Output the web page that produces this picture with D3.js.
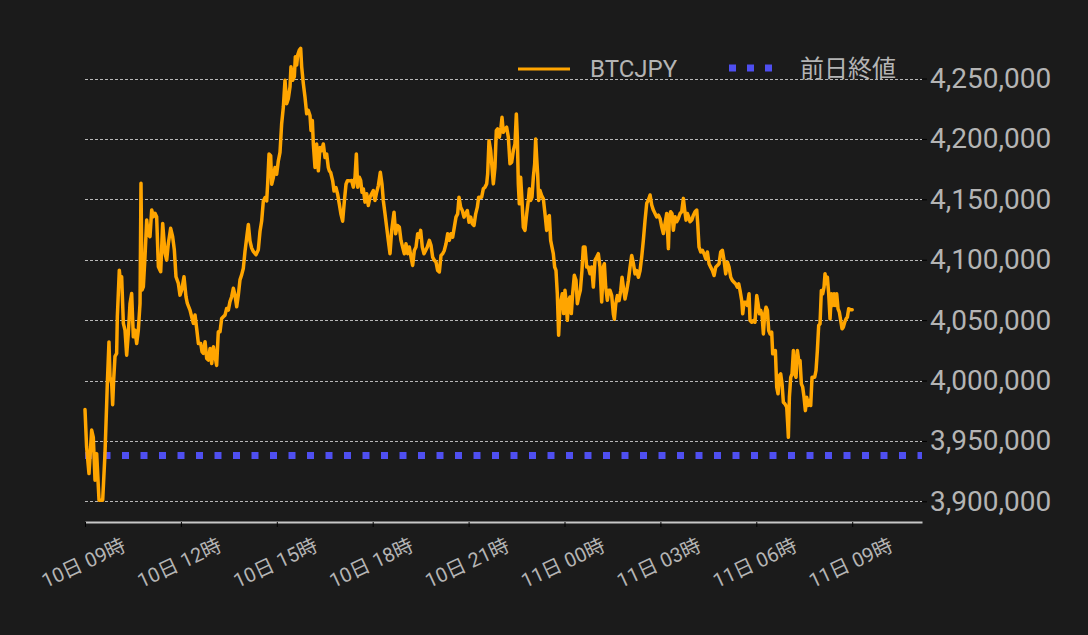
<!DOCTYPE html>
<html><head><meta charset="utf-8">
<script src="https://cdn.jsdelivr.net/npm/d3@7"></script>
<style>
html,body{margin:0;padding:0;background:#1b1b1b;}
svg{display:block;}
text{font-family:Roboto,"Noto Sans CJK JP",sans-serif;}
</style></head>
<body>
<svg id="chart" width="1088" height="635"></svg>
<script>
// minutes elapsed since 10日 09:00
const minutesFrom0900 = [
0,3,7.5,12.5,15.6,18.8,21.9,26.3,33.2,37.5,40.7,41.9,45.0,46.9,50.1,51.9,53.8,56.3,59.4,60.7,
64.4,66.9,68.8,72.0,75.1,78.2,81.3,84.5,87.6,90.7,93.9,97.0,100.1,103.3,105.1,107.0,109.5,112.6,115.8,118.9,
122.0,125.2,128.3,131.4,134.5,137.7,142.1,145.8,150.2,153.3,156.4,160.8,164.5,167.7,170.8,175.2,178.3,181.5,185.8,189.6,
192.1,197.1,200.2,203.4,206.5,209.6,212.8,217.2,219.7,222.2,225.3,228.4,231.6,234.7,237.8,241.0,
247.1,250.2,253.4,256.5,259.6,262.8,265.9,269.0,272.1,275.3,278.4,281.5,284.7,287.8,290.9,294.0,297.2,300.3,303.4,306.6,
309.7,312.8,315.9,320.9,325.3,328.5,331.6,334.7,337.8,341.0,342.8,345.4,348.5,350.4,353.5,356.6,359.7,362.9,366.0,369.1,
372.3,375.4,378.5,381.6,384.8,386.6,389.8,392.9,394.8,397.3,399.2,402.3,404.8,406.7,409.8,412.9,416.1,419.2,422.3,424.2,
426.7,428.6,431.7,434.8,438.0,441.1,444.2,447.3,450.5,453.6,456.7,458.6,461.1,464.9,467.4,471.1,474.2,477.4,480.5,483.6,
486.8,489.9,492.4,496.1,
500.5,503.6,506.8,509.3,511.8,514.9,517.4,519.9,522.4,525.5,528.7,531.8,534.9,538.0,541.2,544.3,547.4,550.6,554.3,557.4,
559.9,563.1,566.2,569.3,572.5,575.6,580.0,583.1,586.2,590.0,593.1,596.2,599.4,602.5,605.6,608.7,611.9,615.0,618.1,621.3,
624.4,627.5,630.0,633.1,636.3,639.4,642.5,646.3,649.4,652.5,655.7,658.8,661.9,665.1,668.2,671.3,674.4,677.6,680.7,683.8,
687.0,690.1,693.2,696.3,699.5,702.0,705.1,708.2,711.4,714.5,717.6,720.8,723.9,727.0,730.1,733.3,736.4,738.9,
741.4,744.5,747.6,750.8,753.9,755.8,758.3,761.4,763.9,766.4,769.5,772.0,774.5,777.7,780.8,782.7,785.2,788.3,791.4,794.6,
797.7,800.8,804.0,807.1,809.6,811.5,813.3,815.2,817.7,820.2,822.7,825.8,829.0,832.1,834.0,836.5,839.0,841.5,844.0,845.9,
847.7,849.6,851.5,854.0,857.1,860.3,863.4,866.5,869.0,871.5,874.0,876.5,879.0,881.5,884.0,886.5,889.0,891.5,893.4,895.9,
898.4,900.9,902.8,905.3,907.8,910.3,912.8,915.3,918.4,921.6,924.1,926.6,929.7,932.8,935.3,938.5,941.6,944.7,947.9,951.0,
954.1,957.2,960.4,963.5,966.6,969.8,972.9,974.8,977.3,980.4,982.9,985.4,
988.6,991.7,993.6,996.1,999.2,1002.4,1005.5,1008.0,1010.5,1013.6,1016.8,1019.9,1023.0,1026.1,1029.4,1032.4,1035.5,1038.7,1041.8,1044.9,
1048.0,1051.2,1054.3,1057.4,1060.6,1063.7,1066.8,1069.9,1073.1,1076.2,1079.3,1082.5,1085.6,1088.7,1091.8,1095.0,1096.8,1099.3,1101.8,1104.3,
1107.5,1110.6,1113.7,1116.9,1120.0,1123.1,1125.6,1128.1,1130.6,1133.1,1135.6,1138.8,1141.9,1145.0,1148.2,1150.0,1152.5,1155.7,1158.8,1161.9,
1165.1,1168.2,1171.3,1174.4,1177.6,1180.7,1183.8,1186.9,1190.1,1193.2,1196.3,1199.5,1202.6,1205.7,1208.8,1212.0,1215.1,1218.2,1221.4,1224.5,
1227.0,1229.5,
1232.6,1234.5,1237.0,1240.1,1243.2,1246.4,1248.2,1251.4,1254.5,1257.6,1260.8,1263.3,1265.8,1268.3,1270.8,1273.3,1275.8,1278.3,1280.8,1283.3,
1285.8,1288.9,1290.8,1293.3,1295.8,1298.3,1300.8,1303.3,1305.8,1308.3,1310.8,1313.9,1317.1,1318.9,1320.2,1322.1,1324.6,1327.1,1329.6,1332.1,
1334.6,1337.1,1339.6,1342.1,1344.6,1347.1,1349.6,1352.1,1354.6,1357.1,1359.6,1362.1,1364.6,1367.1,1369.6,1372.1,1374.6,1377.1,1379.6,1382.1,
1384.6,1387.1,1389.0,1390.9,1393.4,1395.9,1398.4,1400.9,1403.4,1405.9,1408.4,1410.9,1413.4,1415.9,1418.4,1420.9,1423.4,1425.9,1428.4,1430.9,
1433.4,1437.2,1440
];
const btcjpy = [
3976000,3945000,3923000,3959000,3953000,3917500,3939500,3901000,3901000,3939500,3981000,3997500,4032000,4003000,3997500,3980000,4000300,4020000,4022400,4052800,
4091400,4080400,4085900,4047300,4041700,4021000,4039000,4063800,4072100,4036200,4041700,4030700,4041700,4063800,4163300,4074900,4077600,4102500,4132900,4120400,
4119100,4141200,4135600,4138400,4135600,4094200,4090100,4130100,4105300,4099700,4113500,4126000,4119100,4108000,4085900,4080400,4070700,4074900,4085900,4069300,
4063800,4058300,4052800,4047300,4054200,4043100,4030700,4030700,4023800,4022400,4032100,4018300,4016900,4026500,4014100,4027900,
4012500,4040300,4040300,4051400,4052800,4054150,4059700,4058300,4065300,4069400,4076400,4070800,4061100,4070800,4083300,4087500,4093000,4106900,4118000,4129200,
4115300,4109700,4106900,4104100,4108300,4123600,4132000,4148600,4151400,4148600,4162500,4187500,4186100,4162500,4168100,4176400,4170800,4181900,4188900,4212500,
4226400,4248600,4229200,4233300,4243100,4259700,4248600,4251400,4268100,4261100,4269500,4273600,4275000,4259700,4245800,4234700,4220800,4223600,4219400,4207000,
4215300,4195800,4176400,4195800,4173600,4193000,4190300,4195800,4184700,4187500,4176400,4173600,4172200,4165300,4156900,4159700,4154200,4145800,4137500,4131900,
4148600,4162500,4165300,4165300,
4165600,4160100,4168300,4187600,4160100,4168300,4165600,4155900,4158700,4147700,4154600,4144900,4151800,4154600,4157300,4149100,4155900,4161400,4172500,4162800,
4149100,4138000,4127000,4116000,4105000,4124300,4139400,4121500,4128400,4127000,4116000,4110500,4105000,4113200,4105000,4110500,4102200,4095300,4107700,4110500,
4121500,4118700,4124300,4110500,4105000,4107700,4110500,4116000,4111900,4102200,4099500,4098100,4091200,4089900,4103600,4105000,4107700,4113200,4121500,4116000,
4121500,4118700,4127000,4135300,4138000,4151800,4143500,4140800,4135300,4138000,4140800,4131100,4135300,4129800,4128400,4138000,4143500,4151800,
4151800,4151800,4158700,4160100,4162800,4171100,4198600,4190400,4176600,4162800,4176600,4206900,4208300,4201400,4209700,4217900,4205500,4208300,4209700,4201400,
4179400,4180700,4190400,4195900,4220700,4201400,4162800,4146300,4168300,4149100,4127000,4124300,4138000,4149100,4158700,4149100,4151800,4168300,4179400,4200000,
4184900,4171100,4149100,4157300,4153200,4150400,4138000,4124300,4135300,4136600,4116000,4110500,4105000,4094000,4091200,4071900,4037500,4060900,4066400,4071900,
4055400,4074700,4066400,4049900,4066400,4069200,4055400,4071900,4087100,4082900,4063600,4069200,4074700,4091200,4110500,4110500,4094000,4094000,4088400,4094000,
4077400,4099500,4102200,4105000,4094000,4065000,4094000,4096700,4077400,4066400,4074700,4074700,
4070300,4055000,4050800,4063300,4070300,4066100,4074400,4085500,4077200,4067500,4074400,4082800,4093900,4103600,4096700,4088300,4091100,4085500,4091100,4102200,
4116100,4132800,4146700,4149400,4153600,4145300,4141100,4138300,4135500,4136900,4134200,4127200,4121700,4130000,4138300,4109200,4135500,4139700,4138300,4124400,
4135500,4131400,4134200,4138300,4139700,4150800,4141100,4132800,4138300,4135500,4131400,4132800,4136900,4139700,4141100,4130000,4110500,4106400,4107800,4105000,
4100800,4106400,4096700,4093900,4091100,4086900,4093900,4095300,4096700,4106400,4107800,4099400,4088300,4098000,4093900,4085500,4082800,4081400,4080000,4077200,
4080000,4074400,
4066300,4055200,4064900,4064900,4062100,4071800,4049700,4048300,4049700,4048300,4070400,4063500,4055200,4058000,4053800,4038600,4055200,4060700,4058000,4041400,
4038600,4040000,4022100,4022100,4024800,3994500,3989000,4004100,4005500,3997200,3982000,3980600,3977900,3964100,3953000,3986200,4002700,4005500,4024800,4005500,
4002700,4024800,4016600,4016600,3997200,3994500,3986200,3975100,3986200,3979300,3983400,3979300,4002700,4002700,4002700,4008300,4024800,4045600,4046900,4074600,
4071800,4077300,4088400,4080100,4085600,4071800,4051100,4071800,4062100,4071800,4062100,4071800,4059400,4056600,4049700,4042800,4044200,4048300,4051100,4052500,
4059400,4058500,4058500
];
const previousClose = 3938000;
const yTicks = [3900000,3950000,4000000,4050000,4100000,4150000,4200000,4250000];
const xTicks = [0,180,360,540,720,900,1080,1260,1440];
const xTickLabels = ["10日 09時","10日 12時","10日 15時","10日 18時","10日 21時","11日 00時","11日 03時","11日 06時","11日 09時"];
const seriesNames = ["BTCJPY","前日終値"];
const xDomainEnd = 1571;

const svg = d3.select("#chart");
const W = 1088, H = 635;
svg.append("rect").attr("width",W).attr("height",H).attr("fill","#1b1b1b");

const L = 85, R = 922, B = 522, T = 40;
const x = d3.scaleLinear().domain([0, xDomainEnd]).range([L, R]);
const y = d3.scaleLinear().domain([3882900, 4281900]).range([B, T]);

// grid lines
svg.append("g").selectAll("line").data(yTicks).join("line")
  .attr("x1", L).attr("x2", R)
  .attr("y1", d => Math.round(y(d)) + 0.5).attr("y2", d => Math.round(y(d)) + 0.5)
  .attr("stroke", "#b8b8b8").attr("stroke-width", 1).attr("stroke-dasharray", "3,2");

// y axis (right)
const yAxis = svg.append("g").attr("transform", `translate(${R},0)`)
  .call(d3.axisRight(y).tickValues(yTicks).tickSize(5).tickPadding(3).tickFormat(d3.format(",")));
yAxis.select(".domain").remove();
yAxis.selectAll(".tick line").attr("stroke", "#000");
yAxis.selectAll(".tick text").attr("fill", "#b4b4b4").style("font-size", "28px")
  .style("font-family", "Roboto,sans-serif");

// x axis
const xAxis = svg.append("g").attr("transform", `translate(0,${B})`)
  .call(d3.axisBottom(x).tickValues(xTicks).tickSize(5).tickSizeOuter(0).tickFormat((d, i) => xTickLabels[i]));
xAxis.select(".domain").attr("stroke", "#c8c8c8").attr("stroke-width", 2);
xAxis.selectAll(".tick line").attr("stroke", "#000");
xAxis.selectAll(".tick text")
  .attr("fill", "#b4b4b4").style("font-size", "20px")
  .attr("y", 0).attr("dy", "0.35em").attr("text-anchor", "middle")
  .attr("transform", "translate(-2,41) rotate(-25)");

// previous close dotted line
svg.append("line")
  .attr("x1", L).attr("x2", R)
  .attr("y1", y(previousClose)).attr("y2", y(previousClose))
  .attr("stroke", "#4f4ff0").attr("stroke-width", 7).attr("stroke-dasharray", "7,11.5");

// price line
const data = minutesFrom0900.map((m, i) => ({ m, v: btcjpy[i] }));
const line = d3.line().x(d => x(d.m)).y(d => y(d.v));
svg.append("path").datum(data).attr("d", line)
  .attr("fill", "none").attr("stroke", "#ffa500").attr("stroke-width", 3.5)
  .attr("stroke-linejoin", "round").attr("stroke-linecap", "round");

// legend
const lg = svg.append("g");
lg.append("line").attr("x1", 518).attr("x2", 570).attr("y1", 69).attr("y2", 69)
  .attr("stroke", "#ffa500").attr("stroke-width", 3);
lg.append("text").attr("x", 590).attr("y", 69).attr("dy", "0.35em")
  .attr("fill", "#b4b4b4").style("font-size", "24px").text(seriesNames[0]);
lg.append("line").attr("x1", 729).attr("x2", 773).attr("y1", 68).attr("y2", 68)
  .attr("stroke", "#4f4ff0").attr("stroke-width", 7).attr("stroke-dasharray", "7,11");
lg.append("text").attr("x", 800).attr("y", 69).attr("dy", "0.35em")
  .attr("fill", "#b4b4b4").style("font-size", "24px").text(seriesNames[1]);
</script>
</body></html>
